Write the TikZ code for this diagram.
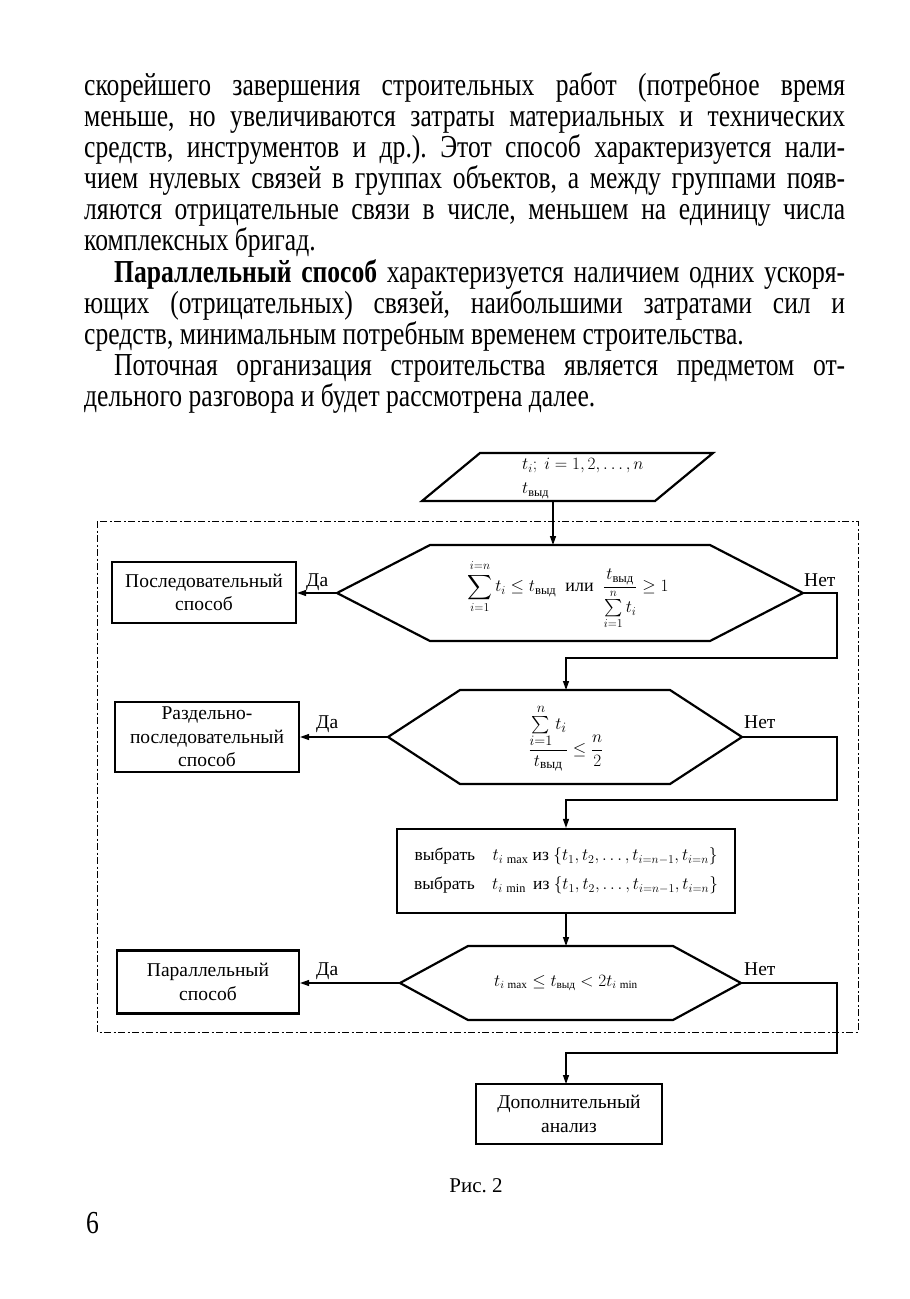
\documentclass[tikz,border=0pt]{standalone}
\usepackage{fontspec}
\usepackage{amsmath}
\setmainfont{Liberation Serif}
\newfontfamily\bodyfont{Liberation Serif}[FakeStretch=0.8]
\usetikzlibrary{arrows.meta}
\newcommand{\vyd}{\text{выд}}
\newcommand{\flowtext}{\fontsize{19.5}{23.5}\selectfont}
\newcommand{\bodytext}{\bodyfont\fontsize{32}{31}\selectfont\frenchspacing}
\frenchspacing
\begin{document}
\begin{tikzpicture}[x=1pt,y=-1pt,
  outline/.style={line width=2.2pt, line join=miter},
  box/.style={draw, line width=2.2pt, align=center, inner sep=0pt, font=\flowtext},
  arr/.style={line width=1.3pt, -{Triangle[length=9pt,width=6pt]}},
  lbl/.style={font=\flowtext, inner sep=0pt},
  bodyline/.style={anchor=base west, inner sep=0pt, font=\bodytext},
  frame/.style={line width=1pt, dash pattern=on 7pt off 2.5pt on 2pt off 2.5pt}]
\useasboundingbox[fill=white] (0,0) rectangle (910,1299);

% body text
\def\W{761pt}
\node[bodyline] (l1) at (84,95) {\makebox[\W][s]{скорейшего завершения строительных работ (потребное время}};
\node[bodyline] (l2) at (84,126) {\makebox[\W][s]{меньше, но увеличиваются затраты материальных и технических}};
\node[bodyline] (l3) at (84,157) {\makebox[\W][s]{средств, инструментов и др.). Этот способ характеризуется нали-}};
\node[bodyline] (l4) at (84,188) {\makebox[\W][s]{чием нулевых связей в группах объектов, а между группами появ-}};
\node[bodyline] (l5) at (84,219) {\makebox[\W][s]{ляются отрицательные связи в числе, меньшем на единицу числа}};
\node[bodyline] (l6) at (84,250) {комплексных бригад.};
\node[bodyline] (l7) at (114,282) {\makebox[731pt][s]{\textbf{Параллельный способ} характеризуется наличием одних ускоря-}};
\node[bodyline] (l8) at (84,313) {\makebox[\W][s]{ющих (отрицательных) связей, наибольшими затратами сил и}};
\node[bodyline] (l9) at (84,344) {средств, минимальным потребным временем строительства.};
\node[bodyline] (l10) at (114,375) {\makebox[731pt][s]{Поточная организация строительства является предметом от-}};
\node[bodyline] (l11) at (84,406) {дельного разговора и будет рассмотрена далее.};

% dashed frame
\draw[frame] (97,521) rectangle (858,1032);

% input parallelogram
\coordinate (pa) at (480,453);
\coordinate (pb) at (713,453);
\coordinate (pc) at (655,501);
\coordinate (pd) at (422,501);
\coordinate (pout) at (553,501);
\draw[outline] (pa) -- (pb) -- (pc) -- (pd) -- cycle;
\node[anchor=north west, align=left, inner sep=0pt, font=\fontsize{17.5}{21}\selectfont] (inp) at (522,458)
  {$t_i;\ i = 1, 2, \ldots, n$\\[3pt] $t_{\vyd}$};

% hexagon 1
\coordinate (h1l) at (337,593);
\coordinate (h1r) at (803,593);
\coordinate (h1t) at (553,545);
\draw[outline] (h1l) -- (430,545) -- (710,545) -- (h1r) -- (710,641) -- (430,641) -- cycle;
\node[inner sep=0pt, font=\fontsize{18}{21}\selectfont] (f1) at (568,595)
  {$\displaystyle\sum_{i=1}^{i=n} t_i \le t_{\vyd}\ \ \text{или}\ \ \frac{t_{\vyd}}{\sum\limits_{i=1}^{n} t_i} \ge 1$};

% hexagon 2
\coordinate (h2l) at (388,737);
\coordinate (h2r) at (742,737);
\coordinate (h2t) at (566,690);
\draw[outline] (h2l) -- (460,690) -- (670,690) -- (h2r) -- (670,784) -- (460,784) -- cycle;
\node[inner sep=0pt, font=\fontsize{19}{22}\selectfont] (f2) at (566,738)
  {$\displaystyle\frac{\sum\limits_{i=1}^{n} t_i}{t_{\vyd}} \le \frac{n}{2}$};

% hexagon 3
\coordinate (h3l) at (400,983);
\coordinate (h3r) at (741,983);
\coordinate (h3t) at (566,946);
\draw[outline] (h3l) -- (468,946) -- (673,946) -- (h3r) -- (673,1020) -- (468,1020) -- cycle;
\node[inner sep=0pt, font=\fontsize{16}{19}\selectfont] (f3) at (566,983)
  {$t_{i\,\max} \le t_{\vyd} < 2t_{i\,\min}$};

% boxes
\node[box, minimum width=184pt, minimum height=61pt] (b1) at (204,592.5) {Последовательный\\способ};
\node[box, minimum width=184pt, minimum height=70pt] (b2) at (207,737) {Раздельно-\\последовательный\\способ};
\node[box, minimum width=182pt, minimum height=63pt] (b3) at (208,982) {Параллельный\\способ};
\node[box, minimum width=338pt, minimum height=84pt, font=\fontsize{17.5}{29}\selectfont] (sel) at (566,871)
  {выбрать\quad $t_{i\,\max}$ из $\{t_1, t_2, \ldots, t_{i=n-1}, t_{i=n}\}$\\
   выбрать\quad $t_{i\,\min}$\, из $\{t_1, t_2, \ldots, t_{i=n-1}, t_{i=n}\}$};
\node[box, minimum width=186pt, minimum height=60pt] (b5) at (569,1114) {Дополнительный\\анализ};

% connectors
\draw[arr] (pout) -- (h1t);
\draw[arr] (h1l) -- (h1l -| b1.east);
\draw[arr] (h1r) -- (837,593) -- (837,658) -- (566,658) -- (h2t);
\draw[arr] (h2l) -- (h2l -| b2.east);
\draw[arr] (h2r) -- (837,737) -- (837,800) -- (566,800) -- (sel.north);
\draw[arr] (sel.south) -- (h3t);
\draw[arr] (h3l) -- (h3l -| b3.east);
\draw[arr] (h3r) -- (837,983) -- (837,1053) -- (566,1053) -- (566,1084);

% labels
\node[lbl, anchor=base west] (da1) at (306,586) {Да};
\node[lbl, anchor=base west] (net1) at (804,586) {Нет};
\node[lbl, anchor=base west] (da2) at (316,728) {Да};
\node[lbl, anchor=base west] (net2) at (744,728) {Нет};
\node[lbl, anchor=base west] (da3) at (316,975) {Да};
\node[lbl, anchor=base west] (net3) at (744,975) {Нет};

% caption and page number
\node[anchor=base, inner sep=0pt, font=\fontsize{21}{24}\selectfont] (cap) at (476,1192) {Рис. 2};
\node[anchor=base west, inner sep=0pt, font=\bodytext] (pg) at (86,1233) {6};
\end{tikzpicture}
\end{document}
